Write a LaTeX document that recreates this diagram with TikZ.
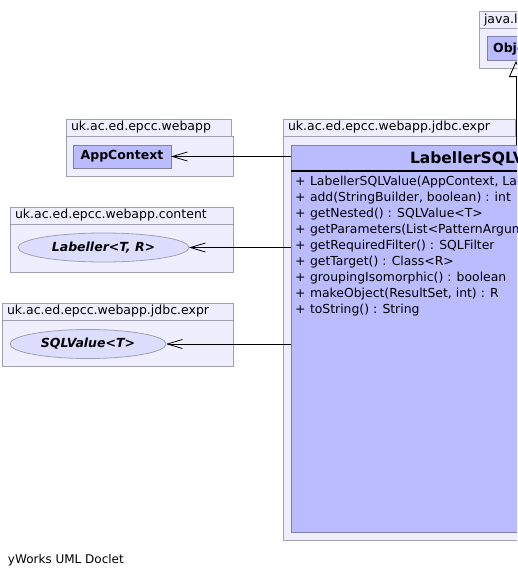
\documentclass[tikz,border=0pt]{standalone}
\usepackage{fontspec}
\setmainfont{DejaVu Sans}
\usetikzlibrary{
	arrows.meta,
	positioning,
	shapes.geometric
}
\definecolor{pkgfill}{HTML}{EEEEFF}
\definecolor{pkgline}{HTML}{A0A0B4}
\definecolor{clsfill}{HTML}{BBBBFF}
\definecolor{clsline}{HTML}{8080A8}
\definecolor{ifcfill}{HTML}{DDDDFF}

\begin{document}
\begin{tikzpicture}[
		x=1pt, y=-1pt,
		every node/.style={
			inner sep=0pt,
			outer sep=0pt,
			font=\fontsize{12.5}{14}\selectfont
		},
		pkgbody/.style={
			draw=pkgline,
			fill=pkgfill,
			line width=1pt,
			anchor=north west
		},
		pkgtab/.style={
			pkgbody,
			anchor=south west,
			minimum height=17pt,
			inner xsep=5pt,
			align=left
		},
		clsbox/.style={
			draw=clsline,
			fill=clsfill,
			line width=1pt,
			anchor=north west
		},
		ifcbox/.style={
			draw=pkgline,
			fill=ifcfill,
			ellipse,
			line width=0.8pt,
			font=\fontsize{12.5}{14}\selectfont\bfseries\itshape
		},
		member/.style={
			anchor=west,
			font=\fontsize{12.4}{16}\selectfont
		},
		dep/.style={
			draw,
			line width=0.8pt,
			-{Straight Barb[length=15pt, width=9pt, line width=0.8pt]}
		},
		inherit/.style={
			draw,
			line width=0.8pt,
			-{Triangle[open, length=16pt, width=14pt, line width=0.8pt]}
		}
	]
	\useasboundingbox (0,0) rectangle (517,578);
	\clip (0,0) rectangle (517,578);
	
	\node[pkgbody, minimum width=60pt, minimum height=40pt] (langbody) at (479,29) {};
	\node[pkgtab, minimum width=60pt, text width=50pt] (langtab) at (langbody.north west) {java.lang};
	\node[clsbox, minimum width=58pt, minimum height=24pt, font=\fontsize{12.5}{14}\selectfont\bfseries] (obj) at (487,37) {Object};
	
	\node[pkgbody, minimum width=260pt, minimum height=404pt] (exprbody) at (283,136) {};
	\node[pkgtab, minimum width=232pt, text width=222pt] (exprtab) at (exprbody.north west) {uk.ac.ed.epcc.webapp.jdbc.expr};
	\node[clsbox, minimum width=250pt, minimum height=387pt] (cls) at (291,145) {};
	\draw[line width=2pt] (cls.west |- 0,171) -- (cls.east |- 0,171);
	\node[anchor=west, font=\fontsize{15.5}{18}\selectfont\bfseries] (clsname) at (410,158.5) {LabellerSQLValue};
	\foreach \m [count=\i from 0] in {
			{LabellerSQLValue(AppContext, Labeller<T, R>, SQLValue<T>)},
			{add(StringBuilder, boolean) : int},
			{getNested() : SQLValue<T>},
			{getParameters(List<PatternArgument>) : List<PatternArgument>},
			{getRequiredFilter() : SQLFilter},
			{getTarget() : Class<R>},
			{groupingIsomorphic() : boolean},
			{makeObject(ResultSet, int) : R},
			{toString() : String}}
		{
			\node[member] (p\i) at (295,182+16*\i) {+};
			\node[member] (m\i) at (310,182+16*\i) {\m};
		}
	
	\node[pkgbody, minimum width=167pt, minimum height=40pt] (webbody) at (66,136) {};
	\node[pkgtab, minimum width=165pt, text width=155pt] (webtab) at (webbody.north west) {uk.ac.ed.epcc.webapp};
	\node[clsbox, minimum width=98pt, minimum height=23pt, font=\fontsize{12.5}{14}\selectfont\bfseries] (ctx) at (73,145) {AppContext};
	
	\node[pkgbody, minimum width=223pt, minimum height=48pt] (contbody) at (10,224) {};
	\node[pkgtab, minimum width=223pt, text width=213pt] (conttab) at (contbody.north west) {uk.ac.ed.epcc.webapp.content};
	\node[ifcbox, minimum width=171pt, minimum height=29pt] (lab) at (103.5,247.5) {Labeller<T, R>};
	
	\node[pkgbody, minimum width=231pt, minimum height=46pt] (sqlbody) at (2,320) {};
	\node[pkgtab, minimum width=231pt, text width=221pt] (sqltab) at (sqlbody.north west) {uk.ac.ed.epcc.webapp.jdbc.expr};
	\node[ifcbox, minimum width=156pt, minimum height=29pt] (sqlv) at (88,344) {SQLValue<T>};
	
	\path[dep] (cls.west |- ctx.east) -- (ctx.east);
	\path[dep] (cls.west |- lab.east) -- (lab.east);
	\path[dep] (cls.west |- sqlv.east) -- (sqlv.east);
	\path[inherit] (cls.north -| obj.south) -- (obj.south);
	
	\node[anchor=west, font=\fontsize{12}{14}\selectfont] (footer) at (8,560) {yWorks UML Doclet};
\end{tikzpicture}
\end{document}
